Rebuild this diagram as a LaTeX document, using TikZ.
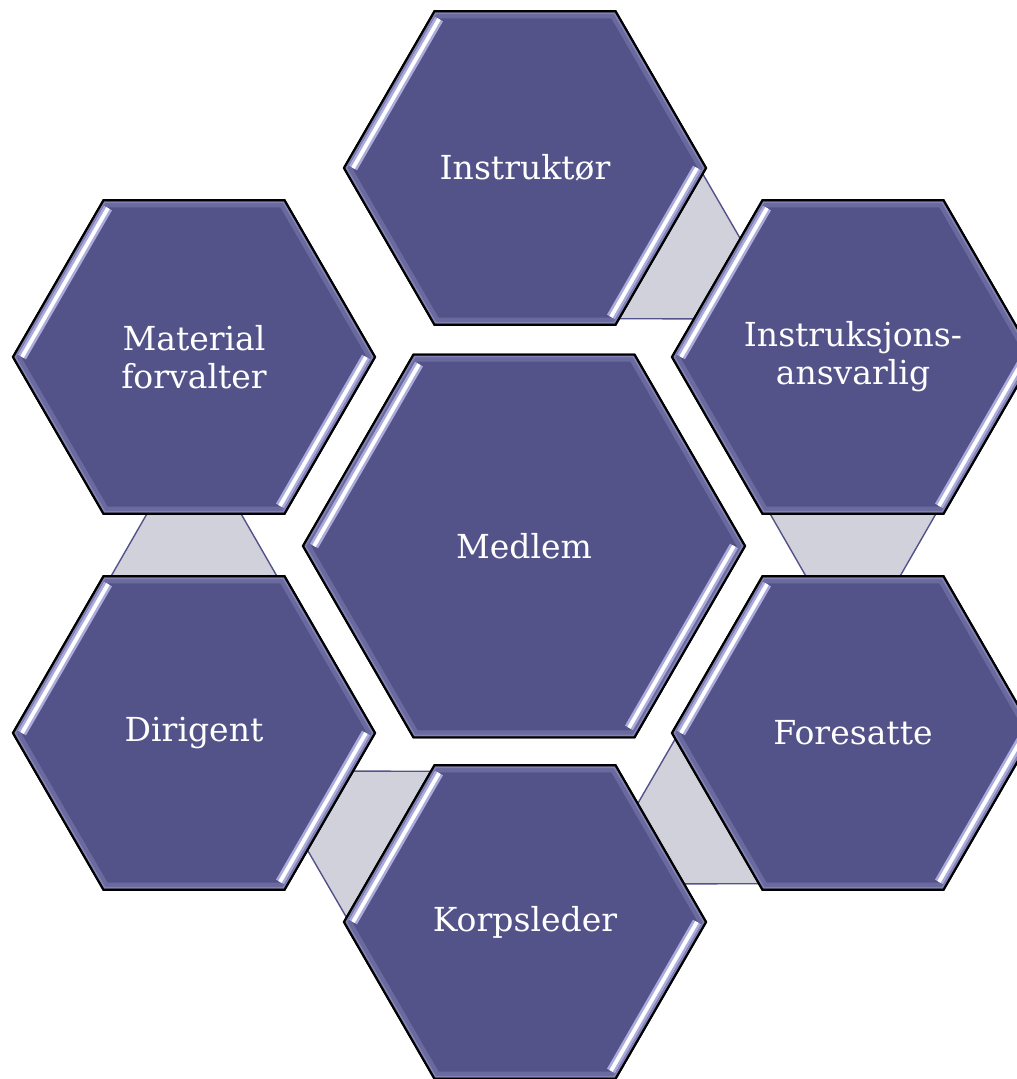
\documentclass[tikz,border=0pt]{standalone}
\usepackage{fontspec}
\setmainfont{DejaVu Serif}
\usetikzlibrary{shapes.geometric,calc,backgrounds}

\definecolor{hexfill}{RGB}{83,83,138}
\definecolor{hexglow}{RGB}{160,160,210}
\definecolor{linkfill}{RGB}{208,209,219}
\definecolor{shine}{RGB}{170,170,220}

\tikzset{
  hexa/.style={regular polygon, regular polygon sides=6, minimum size=3.62cm,
    inner sep=0pt, outer sep=0pt, fill=hexfill, draw=black, line width=0.6pt,
    text=white, align=center, font=\fontsize{9.4}{10.8}\selectfont},
  bighexa/.style={hexa, minimum size=4.42cm},
  link/.style={fill=linkfill, draw=hexfill, line width=0.4pt},
}

% trapezoid between two hexagons, narrow end at #1
\newcommand\hexlink[3]{%
  \begin{scope}[shift={($(#1)!0.5!(#2)$)}, rotate=#3]
    \path[link] (-0.40,-0.42) -- (-0.40,0.42) -- (0.40,0.88) -- (0.40,-0.88) -- cycle;
  \end{scope}}

% inner glow and the two light strips
\newcommand\hexshine[1]{%
  \begin{scope}
    \clip (#1.0) -- (#1.60) -- (#1.120) -- (#1.180) -- (#1.240) -- (#1.300) -- cycle;
    \draw[hexglow, opacity=0.3, line width=4pt]
      (#1.0) -- (#1.60) -- (#1.120) -- (#1.180) -- (#1.240) -- (#1.300) -- cycle;
    \draw[hexglow, opacity=0.45, line width=1.6pt]
      (#1.0) -- (#1.60) -- (#1.120) -- (#1.180) -- (#1.240) -- (#1.300) -- cycle;
  \end{scope}
  \draw[black, line width=0.6pt]
    (#1.0) -- (#1.60) -- (#1.120) -- (#1.180) -- (#1.240) -- (#1.300) -- cycle;
  \foreach \a/\b in {120/180, 0/300} {
    \draw[shine, line width=2.6pt] ($(#1.center)!0.95!(#1.\a)$) -- ($(#1.center)!0.95!(#1.\b)$);
    \draw[white, line width=1.1pt] ($(#1.center)!0.95!(#1.\a)$) -- ($(#1.center)!0.95!(#1.\b)$);
  }}

\begin{document}
\begin{tikzpicture}
  \useasboundingbox (0,0) rectangle (10.17,10.79);
  \clip (0,0) rectangle (10.17,10.79);

  \path node (medlem)     at (5.24,5.33) [bighexa] {Medlem}
        node (instruktor) at (5.25,9.11) [hexa] {Instruktør}
        node (material)   at (1.94,7.22) [hexa] {Material\\forvalter}
        node (ansvarlig)  at (8.53,7.22) [hexa] {Instruksjons-\\ansvarlig}
        node (dirigent)   at (1.94,3.46) [hexa] {Dirigent}
        node (foresatte)  at (8.53,3.46) [hexa] {Foresatte}
        node (korpsleder) at (5.25,1.57) [hexa] {Korpsleder};

  \begin{scope}[on background layer]
    \hexlink{material}{dirigent}{-90}
    \hexlink{dirigent}{korpsleder}{-30}
    \hexlink{korpsleder}{foresatte}{30}
    \hexlink{foresatte}{ansvarlig}{90}
    \hexlink{ansvarlig}{instruktor}{150}
  \end{scope}

  \foreach \n in {medlem,instruktor,material,ansvarlig,dirigent,foresatte,korpsleder}
    {\hexshine{\n}}
\end{tikzpicture}
\end{document}
